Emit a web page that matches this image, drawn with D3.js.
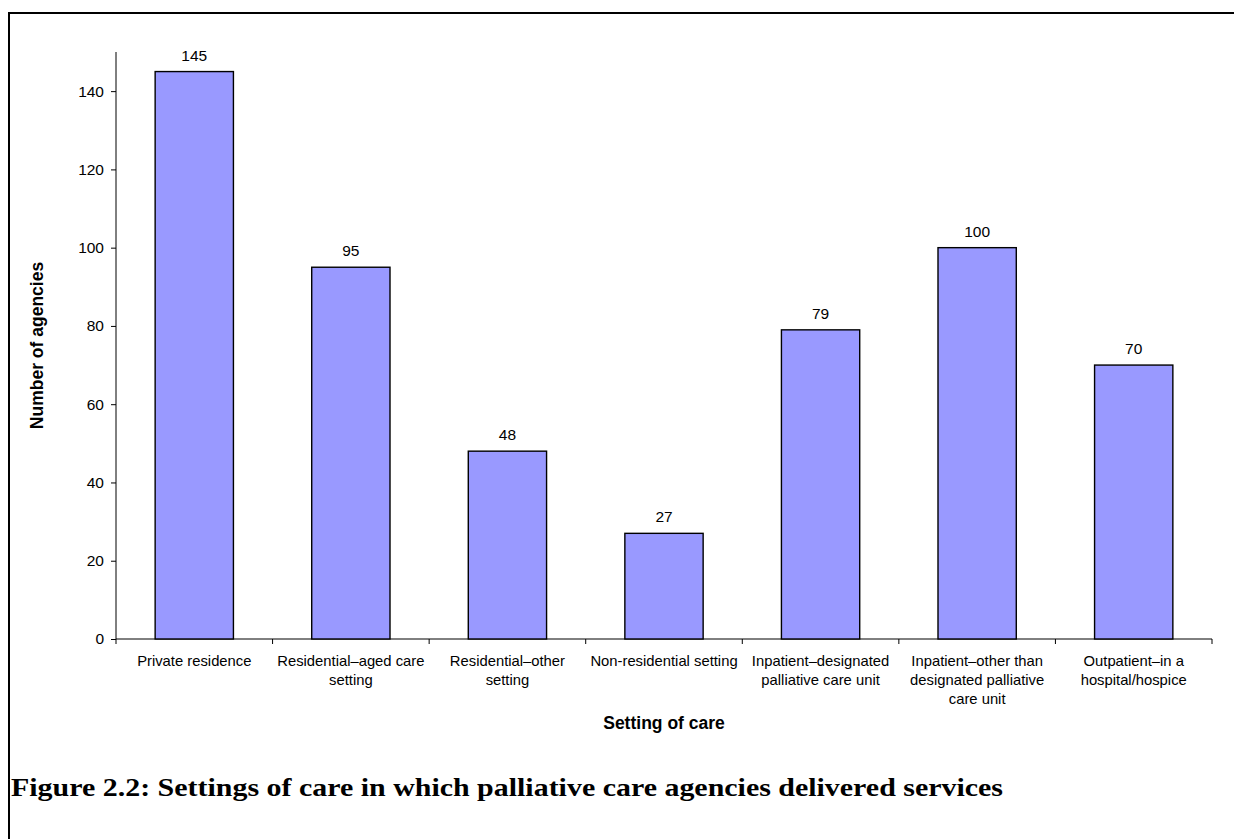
<!DOCTYPE html>
<html>
<head>
<meta charset="utf-8">
<script src="https://cdn.jsdelivr.net/npm/d3@7"></script>
<style>
  html, body { margin: 0; padding: 0; background: #fff; }
  svg { display: block; }
</style>
</head>
<body>
<svg id="chart" width="1234" height="839"></svg>
<script>
// Settings of care and number of agencies delivering services in each
const categories = [
  "Private residence",
  "Residential–aged care setting",
  "Residential–other setting",
  "Non-residential setting",
  "Inpatient–designated palliative care unit",
  "Inpatient–other than designated palliative care unit",
  "Outpatient–in a hospital/hospice"
];
const categoryLines = [
  ["Private residence"],
  ["Residential–aged care", "setting"],
  ["Residential–other", "setting"],
  ["Non-residential setting"],
  ["Inpatient–designated", "palliative care unit"],
  ["Inpatient–other than", "designated palliative", "care unit"],
  ["Outpatient–in a", "hospital/hospice"]
];
const agencies = [145, 95, 48, 27, 79, 100, 70];
const yTicks = [0, 20, 40, 60, 80, 100, 120, 140];

const SANS = "Arial, 'Liberation Sans', sans-serif";
const SERIF = "'Palatino Linotype', 'Book Antiqua', Palatino, 'Liberation Serif', 'DejaVu Serif', serif";

const svg = d3.select("#chart");

// Frame around the figure
svg.append("path")
  .attr("d", "M9,839 L9,13 L1234,13")
  .attr("fill", "none")
  .attr("stroke", "#000")
  .attr("stroke-width", 2);

const plot = { left: 116, right: 1212, top: 52, bottom: 639 };

const x = d3.scaleBand()
  .domain(categories)
  .range([plot.left, plot.right])
  .paddingInner(0.5)
  .paddingOuter(0.25);

const xEdge = d3.scaleBand()
  .domain(categories)
  .range([plot.left, plot.right]);

const y = d3.scaleLinear()
  .domain([0, 150])
  .range([plot.bottom, plot.top]);

// Y axis
const yAxis = svg.append("g")
  .attr("transform", `translate(${plot.left},0)`)
  .call(d3.axisLeft(y).tickValues(yTicks).tickSize(5).tickPadding(7).tickSizeOuter(0));
yAxis.select(".domain").attr("d", `M0,${plot.top}V${plot.bottom}`).attr("stroke", "#000");
yAxis.selectAll(".tick line").attr("stroke", "#000");
yAxis.selectAll("text")
  .style("font-family", SANS)
  .style("font-size", "15.5px")
  .attr("fill", "#000");

// X axis line with ticks on category boundaries
const xg = svg.append("g");
xg.append("line")
  .attr("x1", plot.left).attr("x2", plot.right)
  .attr("y1", plot.bottom).attr("y2", plot.bottom)
  .attr("stroke", "#000");
const boundaries = categories.map(c => xEdge(c)).concat([plot.right]);
xg.selectAll("line.tick")
  .data(boundaries)
  .join("line")
  .attr("class", "tick")
  .attr("x1", d => d).attr("x2", d => d)
  .attr("y1", plot.bottom).attr("y2", plot.bottom + 5)
  .attr("stroke", "#000");

// Category labels
const labels = svg.append("g")
  .selectAll("text")
  .data(categories)
  .join("text")
  .attr("text-anchor", "middle")
  .style("font-family", SANS)
  .style("font-size", "14.8px")
  .attr("transform", d => `translate(${xEdge(d) + xEdge.bandwidth() / 2},${plot.bottom + 27})`);
labels.each(function (d, i) {
  d3.select(this).selectAll("tspan")
    .data(categoryLines[i])
    .join("tspan")
    .attr("x", 0)
    .attr("dy", (t, j) => j === 0 ? 0 : 18.8)
    .text(t => t);
});

// Bars
svg.append("g")
  .selectAll("rect")
  .data(categories)
  .join("rect")
  .attr("x", d => x(d))
  .attr("width", x.bandwidth())
  .attr("y", (d, i) => y(agencies[i]))
  .attr("height", (d, i) => y(0) - y(agencies[i]))
  .attr("fill", "#9999FF")
  .attr("stroke", "#000")
  .attr("stroke-width", 1.4);

// Value labels
svg.append("g")
  .selectAll("text")
  .data(categories)
  .join("text")
  .attr("x", d => x(d) + x.bandwidth() / 2)
  .attr("y", (d, i) => y(agencies[i]) - 11)
  .attr("text-anchor", "middle")
  .style("font-family", SANS)
  .style("font-size", "15.5px")
  .text((d, i) => agencies[i]);

// Axis titles
svg.append("text")
  .attr("transform", `translate(43,${(plot.top + plot.bottom) / 2}) rotate(-90)`)
  .attr("text-anchor", "middle")
  .style("font-family", SANS)
  .style("font-size", "17.5px")
  .style("font-weight", "bold")
  .text("Number of agencies");

svg.append("text")
  .attr("x", (plot.left + plot.right) / 2)
  .attr("y", 729)
  .attr("text-anchor", "middle")
  .style("font-family", SANS)
  .style("font-size", "17.5px")
  .style("font-weight", "bold")
  .text("Setting of care");

// Figure caption
svg.append("text")
  .attr("x", 11)
  .attr("y", 796)
  .attr("textLength", 992)
  .attr("lengthAdjust", "spacingAndGlyphs")
  .style("font-family", SERIF)
  .style("font-size", "26px")
  .style("font-weight", "bold")
  .text("Figure 2.2: Settings of care in which palliative care agencies delivered services");
</script>
</body>
</html>
